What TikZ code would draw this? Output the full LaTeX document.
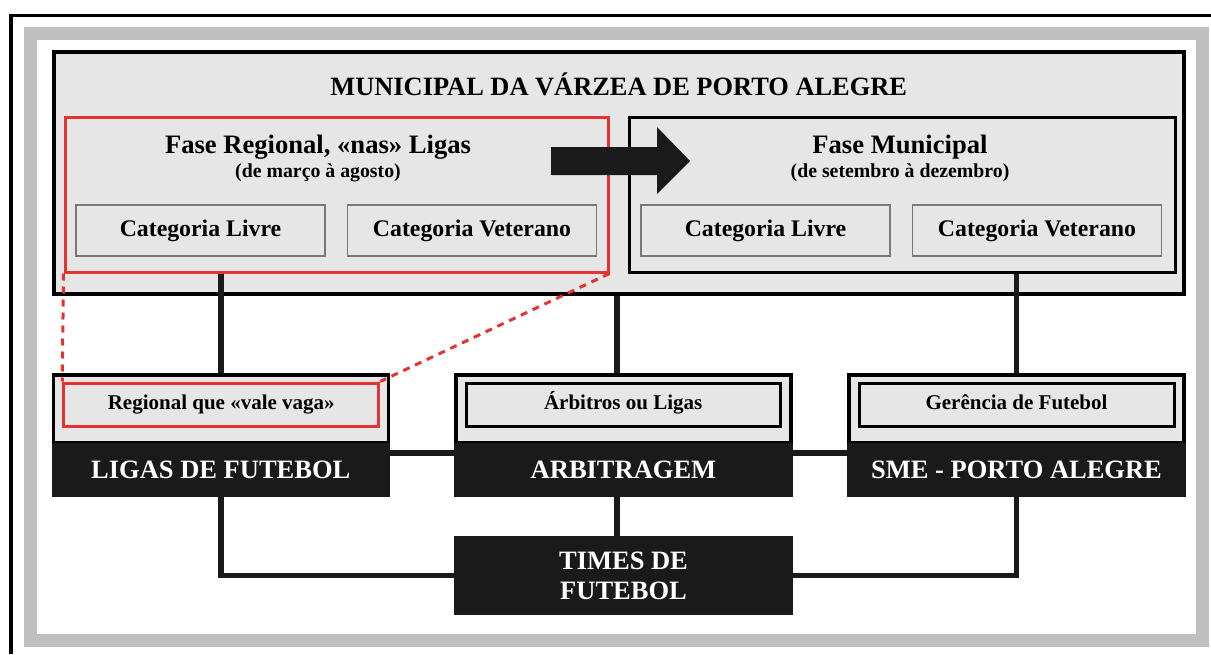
\documentclass[tikz,border=0pt]{standalone}
\usepackage{fontspec}
\setmainfont{Liberation Serif}
\usepackage{xcolor}

\definecolor{bandgray}{RGB}{191,191,191}
\definecolor{boxgray}{RGB}{230,230,230}
\definecolor{edgegray}{RGB}{120,120,120}
\definecolor{ligared}{RGB}{228,52,48}
\definecolor{barblack}{RGB}{26,26,26}

\newcommand{\boldsz}[1]{\fontsize{#1}{#1}\selectfont\bfseries}

\begin{document}
\begin{tikzpicture}[x=1pt,y=-1pt,
    bigbox/.style={draw=black,fill=boxgray,line width=4pt,inner sep=0pt},
    phasebox/.style={fill=boxgray,line width=3pt,inner sep=0pt,
      minimum width=546pt,minimum height=155pt},
    catbox/.style={draw=edgegray,fill=boxgray,line width=1.2pt,inner sep=0pt,
      minimum width=249pt,minimum height=51pt,font=\boldsz{23.8}},
    orgbox/.style={draw=black,fill=boxgray,line width=3.5pt,inner sep=0pt,
      minimum width=335pt,minimum height=68.25pt},
    orgbar/.style={fill=barblack,text=white,inner sep=0pt,minimum width=338.5pt,
      minimum height=54pt,font=\boldsz{26.5},text height=17.5pt,text depth=0pt},
    subbox/.style={draw=black,fill=boxgray,line width=3pt,inner sep=0pt,
      minimum width=314pt,minimum height=43pt,font=\boldsz{21},
      text height=14.5pt,text depth=4.5pt},
    link/.style={line width=5.5pt,color=barblack},
    redlink/.style={line width=3pt,color=ligared,dash pattern=on 7pt off 6pt}]
    \useasboundingbox (0,0) rectangle (1211,654);

    % frame and band
    \draw[line width=3.5pt] (11,654) -- (11,15.5) -- (1211,15.5);
    \draw[bandgray,line width=13pt] (30.5,33.5) rectangle (1202,640.5);

    % municipal
    \node[bigbox,minimum width=1130.5pt,minimum height=242pt] (main) at (618.75,172.5) {};
    \node[anchor=base,font=\boldsz{26.4}] (title) at (618.75,95)
    {MUNICIPAL DA VÁRZEA DE PORTO ALEGRE};

    \node[phasebox,draw=ligared,minimum width=543pt] (regphase) at (336.5,194.5) {};
    \node[phasebox,draw=black] (muniphase) at (902,194.5) {};

    \node[anchor=base,font=\boldsz{26.6}] (regtitle) at (318,153) {Fase Regional, «nas» Ligas};
    \node[anchor=base,font=\boldsz{19.8}] (regdate) at (318,177) {(de março à agosto)};
    \node[anchor=base,font=\boldsz{26.6}] (munititle) at (900,153) {Fase Municipal};
    \node[anchor=base,font=\boldsz{19.8}] (munidate) at (900,177) {(de setembro à dezembro)};

    \node[catbox] (reglivre) at (200.5,230.5) {Categoria Livre};
    \node[catbox] (regvet) at (472,230.5) {Categoria Veterano};
    \node[catbox] (munilivre) at (765.5,230.5) {Categoria Livre};
    \node[catbox] (munivet) at (1037,230.5) {Categoria Veterano};

    \fill[barblack] (551,147) -- (657,147) -- (657,127) -- (690,161) -- (657,194)
    -- (657,175) -- (551,175) -- cycle;

    % organs
    \node[orgbox] (ligasbox) at (220.75,408.9) {};
    \node[orgbar] (ligasbar) at (220.75,470) {LIGAS DE FUTEBOL};
    \node[subbox,draw=ligared,minimum width=315pt] (regional) at (221.25,404.5)
    {Regional que «vale vaga»};

    \node[orgbox] (arbitbox) at (623.5,408.9) {};
    \node[orgbar] (arbitbar) at (623.5,470) {ARBITRAGEM};
    \node[subbox] (arbitros) at (623.2,404.5) {Árbitros ou Ligas};

    \node[orgbox] (smebox) at (1016.5,408.9) {};
    \node[orgbar] (smebar) at (1016.5,470) {SME - PORTO ALEGRE};
    \node[subbox,minimum width=315pt] (gerencia) at (1016.5,404.5) {Gerência de Futebol};

    \node[fill=barblack,text=white,inner sep=0pt,minimum width=339pt,minimum height=79pt,
      align=center,font=\fontsize{26.5}{30}\selectfont\bfseries] (times) at (623.5,575.5)
    {TIMES DE\\FUTEBOL};

    % links
    \coordinate (arbitjoin) at (617,0);
    \draw[link] (regphase.south -| ligasbox.north) -- (ligasbox.north);
    \draw[link] (muniphase.south -| smebox.north) -- (smebox.north);
    \draw[link] (main.south -| arbitjoin) -- (arbitbox.north -| arbitjoin);
    \draw[link] ([yshift=17pt]ligasbar.east) -- ([yshift=17pt]arbitbar.west);
    \draw[link] ([yshift=17pt]arbitbar.east) -- ([yshift=17pt]smebar.west);
    \draw[link] (ligasbar.south) |- (times.west);
    \draw[link] (smebar.south) |- (times.east);
    \draw[link] (arbitbar.south -| arbitjoin) -- (times.north -| arbitjoin);

    \draw[redlink] (regphase.south west) -- (regional.north west);
    \draw[redlink] (regphase.south east) -- (regional.north east);
  \end{tikzpicture}
\end{document}
